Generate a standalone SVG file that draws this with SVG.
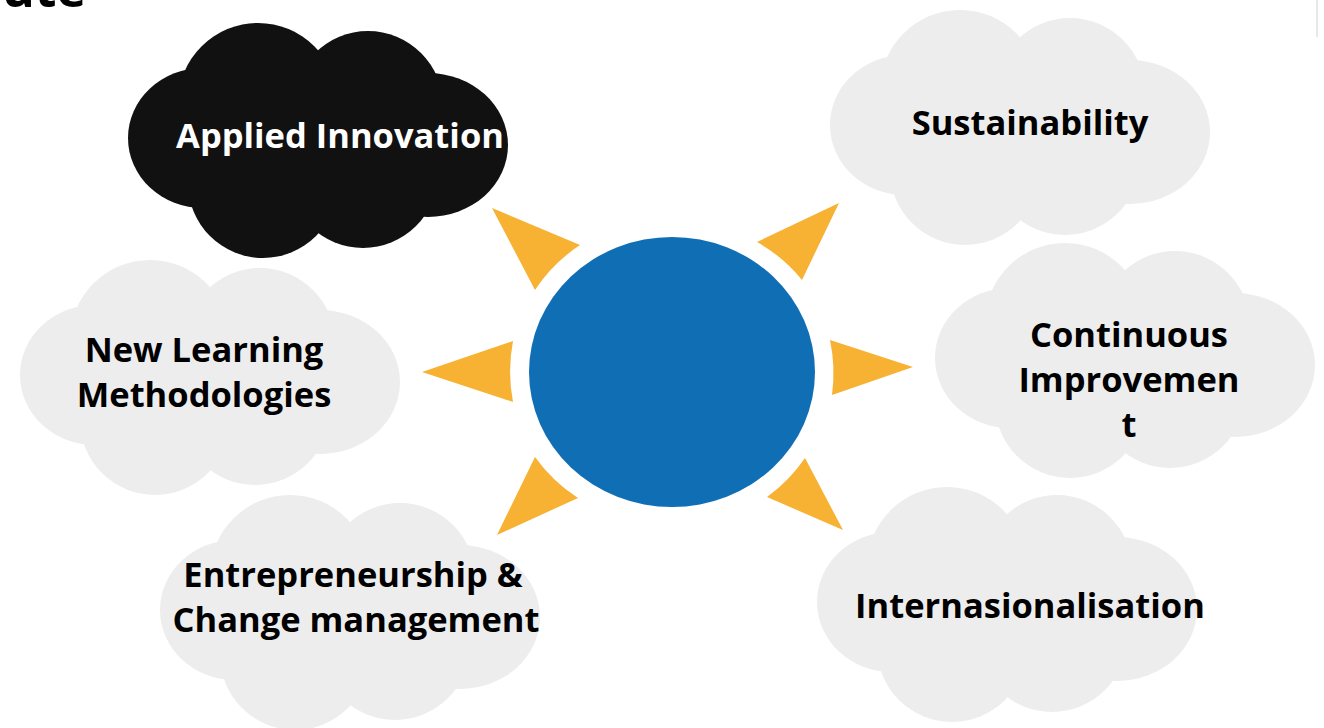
<svg xmlns="http://www.w3.org/2000/svg" xmlns:xlink="http://www.w3.org/1999/xlink" width="1324" height="728" viewBox="0 0 1324 728">
  <style>
    .lbl { font-family: "Open Sans", "Liberation Sans", sans-serif; font-weight: bold; font-size: 34.5px; text-anchor: middle; fill: #000000; }
    .lbl-w { fill: #ffffff; }
    .cloud { fill: #ededed; }
    .cloud-dark { fill: #111111; }
    .ray { fill: #f7b133; }
    .sun { fill: #106eb5; }
    .title { font-family: "Open Sans", "Liberation Sans", sans-serif; font-weight: bold; font-size: 50px; fill: #000000; }
  </style>
  <defs>
    <g id="cloud-shape">
      <ellipse cx="75" cy="115" rx="75" ry="70"/>
      <circle cx="130" cy="80" r="80"/>
      <circle cx="240" cy="83" r="75"/>
      <ellipse cx="300" cy="122" rx="80" ry="72"/>
      <circle cx="235" cy="150" r="75"/>
      <circle cx="135" cy="160" r="75"/>
      <ellipse cx="190" cy="120" rx="150" ry="90"/>
    </g>
  </defs>
  <rect width="1324" height="728" fill="#ffffff"/>
  <text class="title" x="2" y="7">ute</text>
  <line x1="1317" y1="0" x2="1317" y2="37" stroke="#e8e8e8" stroke-width="2"/>

  <g id="node-applied-innovation">
    <use href="#cloud-shape" class="cloud-dark" transform="translate(128,23)"/>
    <text class="lbl lbl-w" x="340" y="148">Applied Innovation</text>
  </g>
  <g id="node-sustainability">
    <use href="#cloud-shape" class="cloud" transform="translate(830,10)"/>
    <text class="lbl" x="1030" y="135">Sustainability</text>
  </g>
  <g id="node-new-learning">
    <use href="#cloud-shape" class="cloud" transform="translate(20,260)"/>
    <text class="lbl" x="204" y="362">New Learning</text>
    <text class="lbl" x="204" y="407">Methodologies</text>
  </g>
  <g id="node-continuous-improvement">
    <use href="#cloud-shape" class="cloud" transform="translate(935,243)"/>
    <text class="lbl" x="1129" y="347">Continuous</text>
    <text class="lbl" x="1129" y="392">Improvemen</text>
    <text class="lbl" x="1129" y="437">t</text>
  </g>
  <g id="node-entrepreneurship">
    <use href="#cloud-shape" class="cloud" transform="translate(160,495)"/>
    <text class="lbl" x="353" y="587">Entrepreneurship &amp;</text>
    <text class="lbl" x="356" y="632">Change management</text>
  </g>
  <g id="node-internasionalisation">
    <use href="#cloud-shape" class="cloud" transform="translate(817,487)"/>
    <text class="lbl" x="1030" y="618">Internasionalisation</text>
  </g>

  <g id="node-sun">
    <ellipse class="sun" cx="672" cy="372" rx="143" ry="135"/>
  </g>
  <g id="connectors">
    <path class="ray" d="M492,208 L580,245 A158,158 0 0 0 535,290 Z"/>
    <path class="ray" d="M422,372 L513,341 A162,162 0 0 0 513,402 Z"/>
    <path class="ray" d="M497,535 L535,457 A159,159 0 0 0 578,498 Z"/>
    <path class="ray" d="M843,530 L767,497 A158,158 0 0 0 805,458 Z"/>
    <path class="ray" d="M913,367 L832,395 A161,161 0 0 0 830,340 Z"/>
    <path class="ray" d="M839,203 L802,280 A157,157 0 0 0 757,242 Z"/>
  </g>
</svg>
